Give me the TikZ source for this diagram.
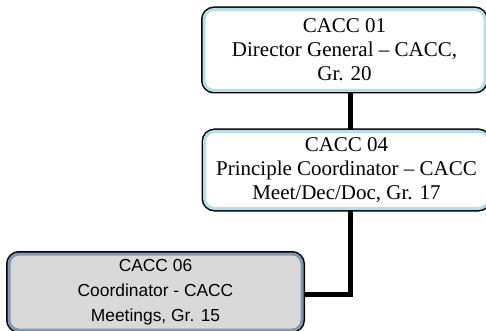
\documentclass[tikz,border=0pt]{standalone}
\usepackage{fontspec}
\setmainfont{Liberation Serif}
\newfontfamily\arialfont{Liberation Sans}
\usepackage{tikz}
\usetikzlibrary{positioning}
\definecolor{lblue}{HTML}{B7DEE8}
\definecolor{sblue}{HTML}{8497B0}
\definecolor{lgray}{HTML}{D9D9D9}
\tikzset{post/.style = {rounded corners = 5pt, fill = white, draw = lblue, line width = 1.5pt,
    preaction = {draw = black, line width = 3pt}, align = center, inner sep = 0,
    font = \fontsize{10.5}{12}\selectfont}}
\tikzset{graypost/.style = {post, fill = lgray, draw = sblue,
    font = \arialfont\fontsize{8.7}{12.5}\selectfont}}
\tikzset{link/.style = {line width = 2.5pt, black}}

\begin{document}
\begin{tikzpicture}[x=0.5pt, y=-0.5pt]
    \useasboundingbox (0, 0) rectangle (486, 331);
    \node [post, minimum width = 140.5pt, minimum height = 40.5pt] (dg) at (344.5, 50)
      {CACC 01\\Director General -- CACC,\\Gr. 20};
    \node [post, minimum width = 142pt, minimum height = 38.5pt] (pc) at (346.5, 170)
      {CACC 04\\Principle Coordinator -- CACC\\Meet/Dec/Doc, Gr. 17};
    \node [graypost, minimum width = 146.5pt, minimum height = 38pt] (co) at (155.5, 292)
      {CACC 06\\Coordinator - CACC\\Meetings, Gr. 15};
    \draw [link] ([xshift = 2.75pt]dg.south) -- ([xshift = 2.75pt]dg.south |- pc.north);
    \draw [link] ([xshift = 1.75pt]pc.south) |- ([yshift = -1pt]co.east);
  \end{tikzpicture}
\end{document}
